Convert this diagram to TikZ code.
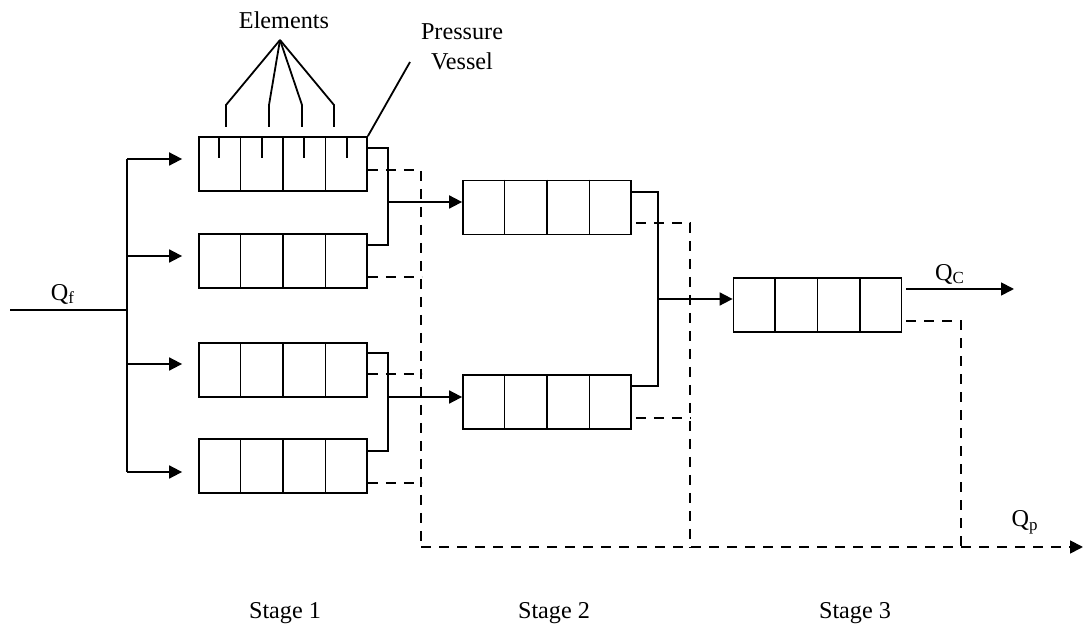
\documentclass[tikz,border=0pt]{standalone}
\usepackage{fontspec}
\setmainfont{Liberation Serif}
\usetikzlibrary{arrows.meta, calc}

\tikzset{
  vessel/.style={draw, minimum width=84pt, minimum height=27pt, inner sep=0pt},
  flow/.style={-{Triangle[length=6.5pt,width=6.5pt]}},
  perm/.style={dash pattern=on 5pt off 4pt},
  lbl/.style={inner sep=0pt, font=\fontsize{12.1}{15}\selectfont},
}

\begin{document}
\begin{tikzpicture}[x=0.5pt, y=-0.5pt, line width=0.9pt]
            \useasboundingbox (0,0) rectangle (1083,630);

            \node[vessel] (v1) at (283,164) {};
            \node[vessel] (v2) at (283,261) {};
            \node[vessel] (v3) at (283,370) {};
            \node[vessel] (v4) at (283,466) {};
            \node[vessel] (w1) at (547,207.5) {};
            \node[vessel] (w2) at (547,402) {};
            \node[vessel] (u) at (817.5,305) {};

            \foreach \v in {v1,v2,v3,v4,w1,w2,u}
              \foreach \i in {1,2,3}
                \draw ($(\v.north west)!\i/4!(\v.north east)$) -- ($(\v.south west)!\i/4!(\v.south east)$);
            \foreach \i in {1,3,5,7}
              \draw ($(v1.north west)!\i/8!(v1.north east)$) -- ++(0,-11pt);

            \node[lbl] (el) at (284,20) {Elements};
            \node[lbl, align=center] (pv) at (462,47) {Pressure\\Vessel};
            \node[lbl] (qf) at (63,294) {Q\textsubscript{f}};
            \node[lbl] (qc) at (950,274) {Q\textsubscript{C}};
            \node[lbl] (qp) at (1025,522) {Q\textsubscript{p}};
            \node[lbl] (s1) at (285,613) {Stage 1};
            \node[lbl] (s2) at (554,613) {Stage 2};
            \node[lbl] (s3) at (855,613) {Stage 3};

            \coordinate (elconv) at (280,40);
            \coordinate (pvtip) at (410,62);
            \coordinate (feed) at (10,310);
            \coordinate (bus) at (128,310);
            \coordinate (j1) at (388,202);
            \coordinate (j2) at (388,397);
            \coordinate (j3) at (658,299);
            \coordinate (qcend) at (1014,289);
            \coordinate (p1) at (421,547);
            \coordinate (p2) at (690,547);
            \coordinate (p3) at (961,547);
            \coordinate (pend) at (1083,547);

            \foreach \x in {226,269,302,334}
              \draw (elconv) -- (\x,105) -- (\x,127);
            \draw (pvtip) -- (v1.north east);

            \draw (feed) -- (bus);
            \draw ([xshift=-35.5pt, yshift=2.5pt]v1.west) -- ([xshift=-35.5pt, yshift=-3pt]v4.west);
            \draw[flow] ([xshift=-35.5pt, yshift=2.5pt]v1.west) -- ([xshift=-8pt, yshift=2.5pt]v1.west);
            \draw[flow] ([xshift=-35.5pt, yshift=2.5pt]v2.west) -- ([xshift=-8pt, yshift=2.5pt]v2.west);
            \draw[flow] ([xshift=-35.5pt, yshift=3pt]v3.west) -- ([xshift=-8pt, yshift=3pt]v3.west);
            \draw[flow] ([xshift=-35.5pt, yshift=-3pt]v4.west) -- ([xshift=-8pt, yshift=-3pt]v4.west);

            \draw ([yshift=8pt]v1.east) -| (j1) |- ([yshift=8pt]v2.east);
            \draw ([yshift=8.5pt]v3.east) -| (j2) |- ([yshift=7.5pt]v4.east);
            \draw[flow] (j1) -- ([yshift=2.75pt]w1.west);
            \draw[flow] (j2) -- ([yshift=2.5pt]w2.west);
            \draw ([yshift=7.75pt]w1.east) -| (j3) |- ([yshift=8pt]w2.east);
            \draw[flow] (j3) -- ([yshift=3pt]u.west);
            \draw[flow] ([xshift=2pt, yshift=8pt]u.east) -- (qcend);

            \draw[perm] ([yshift=-3pt]v1.east) -| (p1);
            \draw[perm] ([yshift=-8pt]v2.east) -- ++(27pt,0);
            \draw[perm] ([yshift=-2pt]v3.east) -- ++(27pt,0);
            \draw[perm] ([yshift=-8.5pt]v4.east) -- ++(27pt,0);
            \draw[perm] ([xshift=2pt, yshift=-7.75pt]w1.east) -| (p2);
            \draw[perm] ([xshift=2pt, yshift=-8pt]w2.east) -- ++(27.5pt,0);
            \draw[perm] ([xshift=2pt, yshift=-8pt]u.east) -| (p3);
            \draw[perm, flow] (p1) -- (pend);
        \end{tikzpicture}
\end{document}
